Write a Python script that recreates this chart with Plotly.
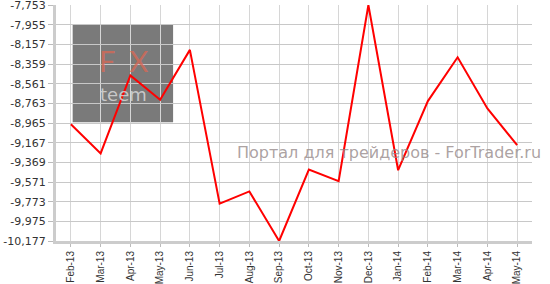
import plotly.graph_objects as go

months = ["Feb-13", "Mar-13", "Apr-13", "May-13", "Jun-13", "Jul-13", "Aug-13", "Sep-13",
          "Oct-13", "Nov-13", "Dec-13", "Jan-14", "Feb-14", "Mar-14", "Apr-14", "May-14"]
values = [-8978, -9278, -8477, -8726, -8214, -9793, -9668, -10177,
          -9443, -9563, -7753, -9450, -8740, -8290, -8815, -9193]

y_ticks = [-7753, -7955, -8157, -8359, -8561, -8763, -8965, -9167,
           -9369, -9571, -9773, -9975, -10177]
y_tick_labels = ["-7,753", "-7,955", "-8,157", "-8,359", "-8,561", "-8,763", "-8,965",
                 "-9,167", "-9,369", "-9,571", "-9,773", "-9,975", "-10,177"]

watermark = "Портал для трейдеров - ForTrader.ru"

fig = go.Figure()
fig.add_trace(go.Scatter(x=months, y=values, mode="lines",
                         line=dict(color="#ff0000", width=2), hoverinfo="skip"))

fig.update_layout(
    width=550, height=284,
    margin=dict(l=56, r=18, t=5, b=43, autoexpand=False),
    paper_bgcolor="white", plot_bgcolor="white",
    showlegend=False,
    xaxis=dict(type="category", range=[-0.5, len(months) - 0.5],
               showgrid=True, gridcolor="#d6d6d6", gridwidth=1,
               showline=True, linecolor="#cccccc", linewidth=3,
               ticks="outside", ticklen=3, tickcolor="#bbbbbb",
               tickangle=-90, automargin=False,
               tickfont=dict(family="Liberation Sans, Arial", size=10, color="#333333"),
               zeroline=False, fixedrange=True),
    yaxis=dict(range=[min(y_ticks), max(y_ticks)],
               tickvals=y_ticks, ticktext=y_tick_labels,
               showgrid=True, gridcolor="#c8c8c8", gridwidth=1,
               showline=True, linecolor="#cccccc", linewidth=3,
               ticks="outside", ticklen=5, tickcolor="#bbbbbb",
               automargin=False, ticklabeloverflow="allow",
               tickfont=dict(family="DejaVu Sans, Verdana", size=11, color="#333333"),
               zeroline=False, fixedrange=True),
)

# logo box (below gridlines)
fig.add_shape(type="rect", xref="paper", yref="paper",
              x0=0.035, x1=0.246, y0=0.503, y1=0.919,
              fillcolor="#7a7a7a", line=dict(width=0), layer="below")
fig.add_annotation(text="F  X", xref="paper", yref="paper", x=0.142, y=0.765,
                   showarrow=False, xanchor="center", yanchor="middle",
                   font=dict(family="Lato, DejaVu Sans", size=29, color="rgba(215,105,85,0.8)"),
                   )
fig.add_annotation(text="teem", xref="paper", yref="paper", x=0.142, y=0.62,
                   showarrow=False, xanchor="center", yanchor="middle",
                   font=dict(family="DejaVu Sans", size=18, color="rgba(215,215,215,0.85)"))

fig.add_annotation(text=watermark, xref="paper", yref="paper",
                   x=1.023, y=0.373, xanchor="right", yanchor="middle",
                   showarrow=False,
                   font=dict(family="DejaVu Sans, Verdana", size=16, color="rgba(150,138,138,0.8)"))

fig.write_html("out.html")
